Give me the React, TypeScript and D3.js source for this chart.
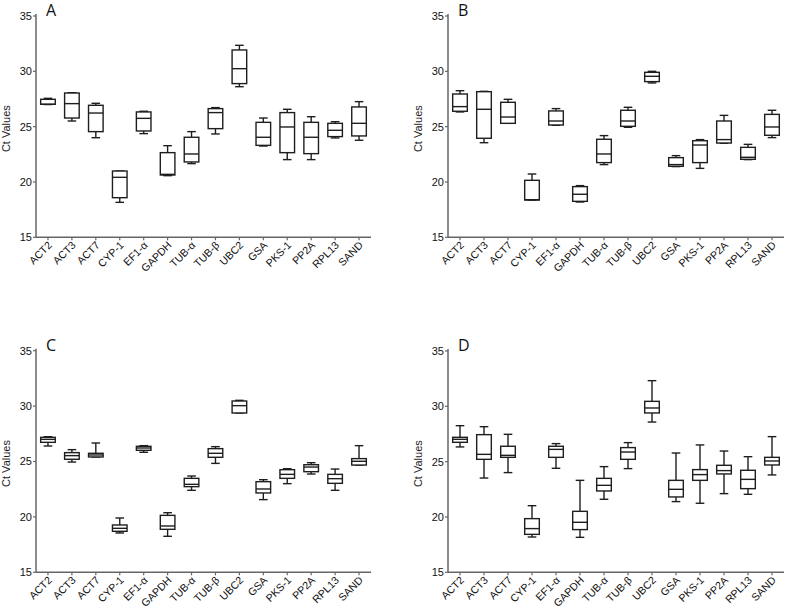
import React from 'react';
import * as d3 from 'd3';

// gene names shared by the four panels
const genes = ['ACT2', 'ACT3', 'ACT7', 'CYP-1', 'EF1-α', 'GAPDH', 'TUB-α', 'TUB-β', 'UBC2', 'GSA', 'PKS-1', 'PP2A', 'RPL13', 'SAND'];
const yTicks = [15, 20, 25, 30, 35];

// [min, q1, median, q3, max] of Ct values for each gene
const panelA = [
  [27.0, 27.02, 27.02, 27.47, 27.56],
  [25.51, 25.78, 27.08, 28.04, 28.07],
  [24.0, 24.55, 26.23, 26.93, 27.11],
  [18.16, 18.58, 20.42, 20.99, 20.99],
  [24.37, 24.61, 25.75, 26.33, 26.39],
  [20.57, 20.63, 20.69, 22.65, 23.28],
  [21.66, 21.81, 22.53, 24.04, 24.55],
  [24.34, 24.82, 26.27, 26.63, 26.72],
  [28.61, 28.89, 30.24, 31.93, 32.35],
  [23.25, 23.31, 24.04, 25.39, 25.78],
  [22.02, 22.65, 24.97, 26.27, 26.57],
  [22.02, 22.56, 24.04, 25.39, 25.9],
  [23.98, 24.1, 24.67, 25.3, 25.45],
  [23.77, 24.16, 25.3, 26.78, 27.26]
];
const panelB = [
  [26.33, 26.39, 26.81, 27.95, 28.25],
  [23.55, 23.95, 26.57, 28.16, 28.19],
  [25.3, 25.3, 25.87, 27.2, 27.47],
  [18.37, 18.37, 18.4, 20.15, 20.72],
  [25.12, 25.15, 25.51, 26.42, 26.63],
  [18.19, 18.25, 18.89, 19.58, 19.67],
  [21.57, 21.75, 22.53, 23.86, 24.19],
  [24.94, 25.03, 25.51, 26.48, 26.75],
  [28.95, 29.07, 29.55, 29.91, 30.0],
  [21.39, 21.42, 21.57, 22.2, 22.38],
  [21.23, 21.75, 23.34, 23.73, 23.83],
  [23.5, 23.52, 23.83, 25.51, 26.02],
  [22.02, 22.05, 22.23, 23.13, 23.4],
  [24.01, 24.22, 24.97, 26.11, 26.48]
];
const panelC = [
  [26.4, 26.73, 27.0, 27.18, 27.24],
  [24.95, 25.2, 25.53, 25.8, 26.07],
  [25.41, 25.41, 25.59, 25.74, 26.67],
  [18.55, 18.7, 18.97, 19.27, 19.9],
  [25.83, 26.01, 26.22, 26.37, 26.43],
  [18.25, 18.88, 19.18, 20.14, 20.38],
  [22.4, 22.73, 22.94, 23.48, 23.69],
  [24.83, 25.38, 25.74, 26.16, 26.34],
  [29.38, 29.38, 30.04, 30.46, 30.52],
  [21.56, 22.16, 22.52, 23.18, 23.36],
  [23.0, 23.48, 23.84, 24.26, 24.35],
  [23.87, 24.08, 24.5, 24.71, 24.89],
  [22.4, 23.03, 23.45, 23.84, 24.32],
  [24.68, 24.68, 25.02, 25.26, 26.43]
];
const panelD = [
  [26.33, 26.75, 27.02, 27.2, 28.25],
  [23.52, 25.21, 25.66, 27.44, 28.16],
  [24.01, 25.39, 25.57, 26.39, 27.47],
  [18.19, 18.43, 18.95, 19.85, 21.02],
  [24.4, 25.39, 26.11, 26.39, 26.63],
  [18.16, 18.86, 19.52, 20.51, 23.31],
  [21.6, 22.35, 22.86, 23.49, 24.55],
  [24.37, 25.21, 25.87, 26.27, 26.72],
  [28.58, 29.4, 29.85, 30.45, 32.32],
  [21.39, 21.81, 22.5, 23.31, 25.78],
  [21.24, 23.31, 23.83, 24.28, 26.51],
  [22.11, 23.89, 24.19, 24.67, 25.96],
  [22.05, 22.56, 23.4, 24.22, 25.45],
  [23.8, 24.7, 25.06, 25.39, 27.26]
];

const axisFont = '"Liberation Sans", Arial, sans-serif';
const ink = '#1e1e1e';

function BoxPanel ({ data, label, left, right, top, bottom }) {
  const x = d3.scalePoint().domain(genes).range([left, right]).padding(0.5);
  const y = d3.scaleLinear().domain([15, 35]).range([bottom, top]);
  const step = x.step();
  const boxW = step * 0.61;
  const capW = step * 0.36;

  return (
    <g>
      <text x={left + 10} y={top} fontFamily='"Open Sans", sans-serif' fontSize={16} fill='#111'>{label}</text>
      <text transform={`translate(${left - 26},${(top + bottom) / 2 + 2}) rotate(-90)`} textAnchor='middle'
        fontFamily={axisFont} fontSize={11} fill='#222'>Ct Values</text>

      {/* axes */}
      <line x1={left} x2={left} y1={top - 2} y2={bottom} stroke='#666' strokeWidth={1.5} />
      <line x1={left} x2={right} y1={bottom} y2={bottom} stroke='#666' strokeWidth={1.5} />
      {yTicks.map(t => (
        <g key={t}>
          <line x1={left - 3} x2={left} y1={y(t)} y2={y(t)} stroke='#666' strokeWidth={1.2} />
          <text x={left - 4} y={y(t)} dy='0.35em' textAnchor='end' fontFamily={axisFont} fontSize={11} fill='#111'>{t}</text>
        </g>
      ))}
      {genes.map(g => (
        <g key={g}>
          <line x1={x(g)} x2={x(g)} y1={bottom} y2={bottom + 3} stroke='#666' strokeWidth={1.2} />
          <text transform={`translate(${x(g) + 2},${bottom + 6}) rotate(-45)`} textAnchor='end' dy='0.35em'
            fontFamily={axisFont} fontSize={10.6} fill='#111'>{g}</text>
        </g>
      ))}

      {/* boxes */}
      {data.map((d, i) => {
        const cx = x(genes[i]);
        const [mn, q1, med, q3, mx] = d;
        return (
          <g key={i} stroke={ink} strokeWidth={1.4} fill='none'>
            <line x1={cx} x2={cx} y1={y(mx)} y2={y(q3)} />
            <line x1={cx} x2={cx} y1={y(q1)} y2={y(mn)} />
            <line x1={cx - capW / 2} x2={cx + capW / 2} y1={y(mx)} y2={y(mx)} />
            <line x1={cx - capW / 2} x2={cx + capW / 2} y1={y(mn)} y2={y(mn)} />
            <rect x={cx - boxW / 2} y={y(q3)} width={boxW} height={Math.max(0.5, y(q1) - y(q3))} fill='#fff' />
            <line x1={cx - boxW / 2} x2={cx + boxW / 2} y1={y(med)} y2={y(med)} />
          </g>
        );
      })}
    </g>
  );
}

export default function App () {
  return (
    <svg width={786} height={609} style={{ position: 'absolute', left: 0, top: 0, background: '#fff' }}>
      <rect width={786} height={609} fill='#fff' />
      <BoxPanel data={panelA} label='A' left={36} right={371} top={16} bottom={237.3} />
      <BoxPanel data={panelB} label='B' left={448} right={784} top={16} bottom={237.3} />
      <BoxPanel data={panelC} label='C' left={36} right={371} top={350.7} bottom={572.3} />
      <BoxPanel data={panelD} label='D' left={448} right={784} top={351} bottom={572.3} />
    </svg>
  );
}
